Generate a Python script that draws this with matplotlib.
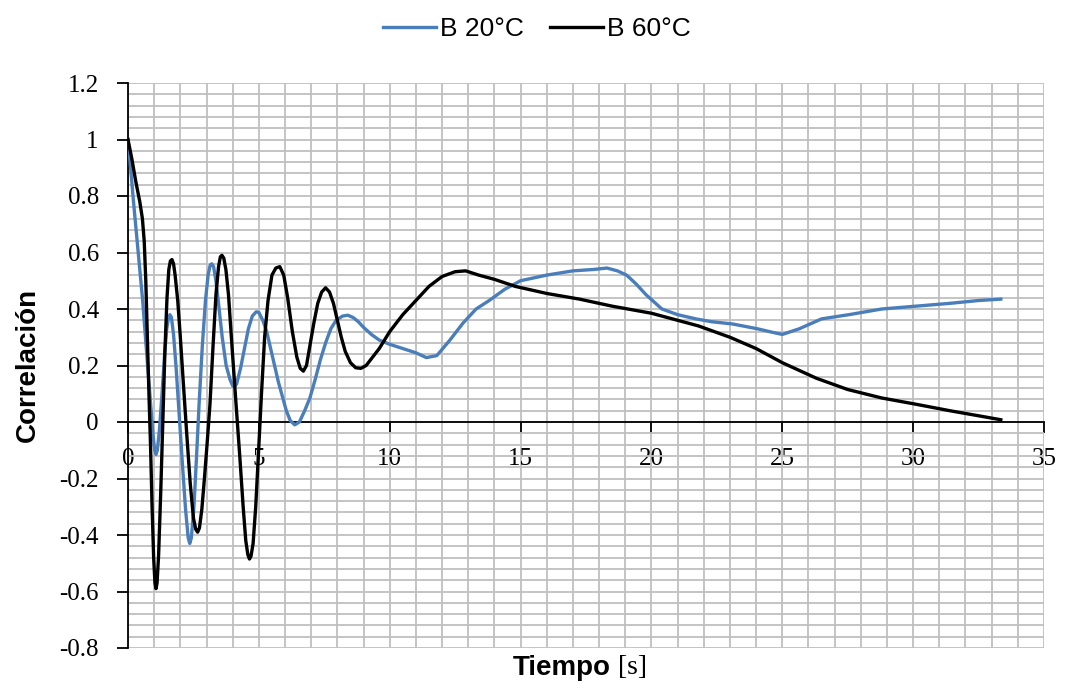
import matplotlib
matplotlib.use("Agg")
import matplotlib.pyplot as plt
from matplotlib.ticker import MultipleLocator, FixedLocator, FixedFormatter

# ---------------- data ----------------
x_b20 = [0, 0.1, 0.2, 0.33, 0.46, 0.56, 0.65, 0.75, 0.85, 0.95, 1.02, 1.07, 1.12, 1.2, 1.3,
         1.4, 1.48, 1.55, 1.6, 1.66, 1.74, 1.84, 1.96, 2.08, 2.2, 2.3, 2.36, 2.42, 2.52, 2.62,
         2.72, 2.84, 2.96, 3.06, 3.14, 3.2, 3.27, 3.36, 3.47, 3.6, 3.75, 3.9, 4.0, 4.07, 4.15,
         4.3, 4.45, 4.6, 4.75, 4.9, 5.0, 5.15, 5.3, 5.45, 5.6, 5.75, 5.9, 6.05, 6.2, 6.37,
         6.55, 6.75, 6.95, 7.15, 7.35, 7.55, 7.75, 7.95, 8.2, 8.4, 8.6, 8.8, 9.0, 9.3, 9.6,
         10.0, 10.5, 11.0, 11.4, 11.8, 12.3, 12.8, 13.3, 13.8, 14.4, 15.0, 16.0, 17.0, 17.8,
         18.3, 18.7, 19.05, 19.4, 19.8, 20.4, 21.0, 21.7, 22.3, 23.1, 24.05, 24.6, 25.0, 25.65,
         26.5, 27.55, 28.8, 30.1, 31.4, 32.5, 33.35]
y_b20 = [1.0, 0.9, 0.79, 0.66, 0.53, 0.43, 0.32, 0.2, 0.08, -0.04, -0.1, -0.115, -0.1, -0.03, 0.1,
         0.24, 0.33, 0.37, 0.38, 0.37, 0.31, 0.19, 0.02, -0.15, -0.31, -0.41, -0.43, -0.41, -0.3, -0.12,
         0.07, 0.27, 0.43, 0.52, 0.555, 0.56, 0.55, 0.5, 0.41, 0.3, 0.2, 0.15, 0.128, 0.125, 0.135,
         0.19, 0.26, 0.33, 0.375, 0.39, 0.388, 0.36, 0.32, 0.26, 0.2, 0.14, 0.09, 0.04, 0.005, -0.01,
         0.0, 0.04, 0.085, 0.15, 0.22, 0.28, 0.33, 0.36, 0.375, 0.378, 0.37, 0.355, 0.335, 0.31, 0.29,
         0.275, 0.26, 0.245, 0.228, 0.235, 0.29, 0.35, 0.40, 0.43, 0.47, 0.50, 0.52, 0.535, 0.54,
         0.545, 0.535, 0.52, 0.49, 0.45, 0.40, 0.38, 0.365, 0.355, 0.347, 0.33, 0.318, 0.31, 0.33,
         0.365, 0.38, 0.40, 0.41, 0.42, 0.43, 0.435]

x_b60 = [0, 0.15, 0.3, 0.45, 0.55, 0.62, 0.68, 0.74, 0.8, 0.86, 0.92, 0.98, 1.03, 1.07, 1.11,
         1.17, 1.25, 1.33, 1.41, 1.49, 1.56, 1.62, 1.68, 1.74, 1.8, 1.9, 2.0, 2.12, 2.25, 2.38,
         2.5, 2.59, 2.66, 2.73, 2.82, 2.92, 3.02, 3.13, 3.25, 3.36, 3.46, 3.53, 3.59, 3.66, 3.74,
         3.84, 3.95, 4.1, 4.27, 4.4, 4.5, 4.58, 4.64, 4.7, 4.78, 4.88, 4.98, 5.1, 5.22, 5.35,
         5.5, 5.65, 5.8, 5.95, 6.1, 6.28, 6.45, 6.58, 6.7, 6.82, 6.95, 7.1, 7.25, 7.4, 7.55,
         7.7, 7.85, 8.0, 8.15, 8.3, 8.5, 8.7, 8.9, 9.1, 9.35, 9.6, 10.0, 10.5, 11.0, 11.5,
         12.0, 12.5, 12.9, 13.4, 14.0, 14.8, 16.0, 17.25, 18.5, 20.0, 21.0, 21.8, 23.0, 24.0,
         25.0, 26.3, 27.5, 28.8, 30.1, 31.4, 32.5, 33.35]
y_b60 = [1.0, 0.93, 0.85, 0.78, 0.72, 0.64, 0.5, 0.3, 0.1, -0.08, -0.3, -0.48, -0.57, -0.59, -0.57,
         -0.47, -0.25, 0.0, 0.25, 0.44, 0.54, 0.57, 0.575, 0.56, 0.52, 0.43, 0.3, 0.13, -0.05, -0.22,
         -0.34, -0.38, -0.39, -0.375, -0.31, -0.2, -0.08, 0.06, 0.27, 0.45, 0.55, 0.585, 0.59, 0.58, 0.54,
         0.45, 0.3, 0.1, -0.12, -0.3, -0.42, -0.47, -0.485, -0.475, -0.43, -0.3, -0.12, 0.1, 0.3, 0.43,
         0.52, 0.545, 0.55, 0.52, 0.44, 0.32, 0.23, 0.19, 0.18, 0.2, 0.27, 0.35, 0.42, 0.46, 0.475,
         0.46, 0.42, 0.36, 0.3, 0.25, 0.21, 0.192, 0.19, 0.2, 0.23, 0.26, 0.32, 0.38, 0.43, 0.48,
         0.515, 0.532, 0.535, 0.52, 0.505, 0.48, 0.455, 0.435, 0.41, 0.385, 0.36, 0.34, 0.30, 0.26,
         0.21, 0.155, 0.115, 0.085, 0.063, 0.04, 0.022, 0.008]

labels = ["B 20°C", "B 60°C"]
x_ticks = [0, 5, 10, 15, 20, 25, 30, 35]
x_ticklabels = ["0", "5", "10", "15", "20", "25", "30", "35"]
y_ticks = [-0.8, -0.6, -0.4, -0.2, 0, 0.2, 0.4, 0.6, 0.8, 1, 1.2]
y_ticklabels = ["-0.8", "-0.6", "-0.4", "-0.2", "0", "0.2", "0.4", "0.6", "0.8", "1", "1.2"]

# ---------------- figure ----------------
fig = plt.figure(figsize=(10.67, 6.92), dpi=100)
ax = fig.add_axes([128 / 1067, 1 - 648 / 692, (1044 - 128) / 1067, (648 - 83) / 692])

ax.plot(x_b20, y_b20, color="#4A7EBB", lw=2.4, label=labels[0], zorder=3,
        solid_joinstyle="round")
ax.plot(x_b60, y_b60, color="black", lw=2.4, label=labels[1], zorder=4,
        solid_joinstyle="round")

ax.set_xlim(0, 35)
ax.set_ylim(-0.8, 1.2)

ax.xaxis.set_major_locator(FixedLocator(x_ticks))
ax.xaxis.set_major_formatter(FixedFormatter(x_ticklabels))
ax.xaxis.set_minor_locator(MultipleLocator(1))
ax.yaxis.set_major_locator(FixedLocator(y_ticks))
ax.yaxis.set_major_formatter(FixedFormatter(y_ticklabels))
ax.yaxis.set_minor_locator(MultipleLocator(0.04))

ax.grid(which="both", color="#BFBFBF", lw=1.3, zorder=0)
ax.set_axisbelow(True)

for s in ["top", "right"]:
    ax.spines[s].set_visible(False)
ax.spines["bottom"].set_position(("data", 0))
ax.spines["bottom"].set_linewidth(1.3)
ax.spines["left"].set_linewidth(1.3)
ax.spines["bottom"].set_zorder(2)

ax.tick_params(which="major", direction="out", length=8, width=1.3, color="black")
ax.tick_params(which="minor", length=0)
ax.tick_params(axis="x", pad=11, labelsize=18)
ax.tick_params(axis="y", pad=13, labelsize=18)
for lab in ax.get_xticklabels() + ax.get_yticklabels():
    lab.set_fontfamily("Liberation Serif")

# axis labels
fig.text(28 / 1067, 1 - 365 / 692, "Correlación", rotation=90, ha="center", va="center",
         fontsize=20, fontweight="bold", family="Liberation Sans")
tl = fig.text(562 / 1067, 1 - 668 / 692, "Tiempo", ha="center", va="center",
              fontsize=20, fontweight="bold", family="Liberation Sans")
ax.annotate(" [s]", xy=(1, 0.5), xycoords=tl, ha="left", va="center",
            fontsize=20, family="Liberation Serif", annotation_clip=False)

# legend
fig.legend(loc="center", bbox_to_anchor=(0.503, 0.958), ncol=2, frameon=False,
           prop={"family": "Liberation Sans", "size": 19}, handlelength=2.0,
           handletextpad=0.15, columnspacing=1.0)

fig.savefig("out.png", dpi=100)
